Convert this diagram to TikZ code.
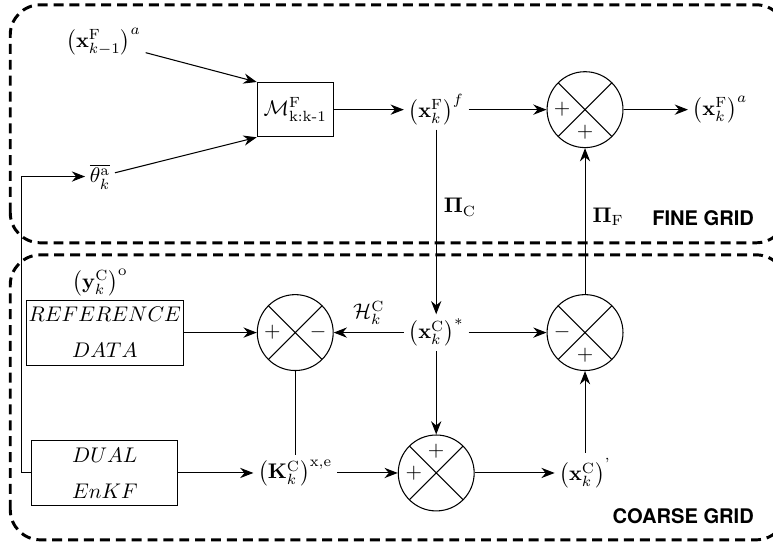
\documentclass[tikz,border=0pt]{standalone}
\usepackage{amsmath,amssymb}
\usepackage[no-math]{fontspec}
\usetikzlibrary{arrows.meta}
\newfontfamily\gridfont{TeX Gyre Heros}

\begin{document}
\begin{tikzpicture}[
  >={Stealth[length=2.2mm,width=1.7mm]},
  line width=0.5pt,
  statevar/.style={inner sep=2pt},
  datbox/.style={draw, minimum width=2.42cm, minimum height=1.08cm, align=center, inner sep=1pt},
  modbox/.style={draw, minimum width=1.26cm, minimum height=0.9cm, inner sep=1pt},
  summer/.style={draw, circle, minimum size=1.26cm, inner sep=0pt,
    path picture={\draw (path picture bounding box.north west) -- (path picture bounding box.south east)
      (path picture bounding box.south west) -- (path picture bounding box.north east);}},
  sgn/.style={inner sep=0pt},
  gridframe/.style={draw, line width=1.4pt, dash pattern=on 4.7pt off 2.8pt, rounded corners=0.5cm},
  gridlabel/.style={font=\gridfont\bfseries\fontsize{9.5}{11}\selectfont},
]
  \useasboundingbox (0,0) rectangle (12.83,9.06);
  \draw[gridframe] (0.17,5.03) rectangle (13.05,8.98);
  \draw[gridframe] (0.17,0.10) rectangle (13.05,4.83);

  % fine grid
  \node[statevar] (xkm1) at (1.72,8.37) {$\left(\mathbf{x}^{\mathrm{F}}_{k-1}\right)^{a}$};
  \node[modbox] (model) at (4.90,7.24) {$\mathcal{M}^{\mathrm{F}}_{\text{k:k-1}}$};
  \node[statevar] (theta) at (1.66,6.13) {$\overline{\theta^{\mathrm{a}}_{k}}$};
  \node[statevar] (xFf) at (7.24,7.24) {$\left(\mathbf{x}^{\mathrm{F}}_{k}\right)^{f}$};
  \node[summer] (sumT) at (9.71,7.24) {};
  \node[statevar] (xFa) at (11.95,7.24) {$\left(\mathbf{x}^{\mathrm{F}}_{k}\right)^{a}$};
  \node[sgn] at ([xshift=-0.38cm]sumT.center) {$+$};
  \node[sgn] at ([yshift=-0.38cm]sumT.center) {$+$};
  \node[gridlabel] at (11.67,5.44) {FINE GRID};

  % coarse grid
  \node[statevar] (yCo) at (1.66,4.37) {$\left(\mathbf{y}^{\mathrm{C}}_{k}\right)^{\mathrm{o}}$};
  \node[datbox] (ref) at (1.74,3.54) {$REFERENCE$\\[5pt]$DATA$};
  \node[summer] (sumL) at (4.90,3.54) {};
  \node[statevar] (xCs) at (7.24,3.54) {$\left(\mathbf{x}^{\mathrm{C}}_{k}\right)^{*}$};
  \node[summer] (sumR) at (9.71,3.54) {};
  \node[datbox] (dual) at (1.74,1.21) {$DUAL$\\[5pt]$EnKF$};
  \node[statevar] (gain) at (4.90,1.21) {$\left(\mathbf{K}^{\mathrm{C}}_{k}\right)^{\mathrm{x,e}}$};
  \node[summer] (sumB) at (7.24,1.21) {};
  \node[statevar] (xCp) at (9.71,1.21) {$\left(\mathbf{x}^{\mathrm{C}}_{k}\right)^{\textnormal{'}}$};
  \node[sgn] at ([xshift=-0.38cm]sumL.center) {$+$};
  \node[sgn] at ([xshift=0.38cm]sumL.center) {$-$};
  \node[sgn] at ([xshift=-0.38cm]sumR.center) {$-$};
  \node[sgn] at ([yshift=-0.38cm]sumR.center) {$+$};
  \node[sgn] at ([yshift=0.36cm]sumB.center) {$+$};
  \node[sgn] at ([xshift=-0.37cm]sumB.center) {$+$};
  \node[gridlabel] at (11.34,0.50) {COARSE GRID};

  \draw[->] (xkm1) -- (model.north west);
  \draw[->] (theta) -- (model.south west);
  \draw[->] (model) -- (xFf);
  \draw[->] (xFf) -- (sumT);
  \draw[->] (sumT) -- (xFa);
  \draw[->] (xFf) -- node[right, pos=0.42] {$\mathbf{\Pi}_{\mathrm{C}}$} (xCs);
  \draw[->] (sumR) -- node[right, pos=0.53] {$\mathbf{\Pi}_{\mathrm{F}}$} (sumT);
  \draw[->] (ref) -- (sumL);
  \draw[->] (xCs) -- node[above] {$\mathcal{H}^{\mathrm{C}}_{k}$} (sumL);
  \draw[->] (xCs) -- (sumR);
  \draw[->] (xCs) -- (sumB);
  \draw (sumL) -- (gain);
  \draw[->] (dual) -- (gain);
  \draw[->] (gain) -- (sumB);
  \draw[->] (sumB) -- (xCp);
  \draw[->] (xCp.north -| sumR) -- (sumR);
  \draw[->] (dual.west) -- ++(-0.17,0) |- (theta);
\end{tikzpicture}
\end{document}
